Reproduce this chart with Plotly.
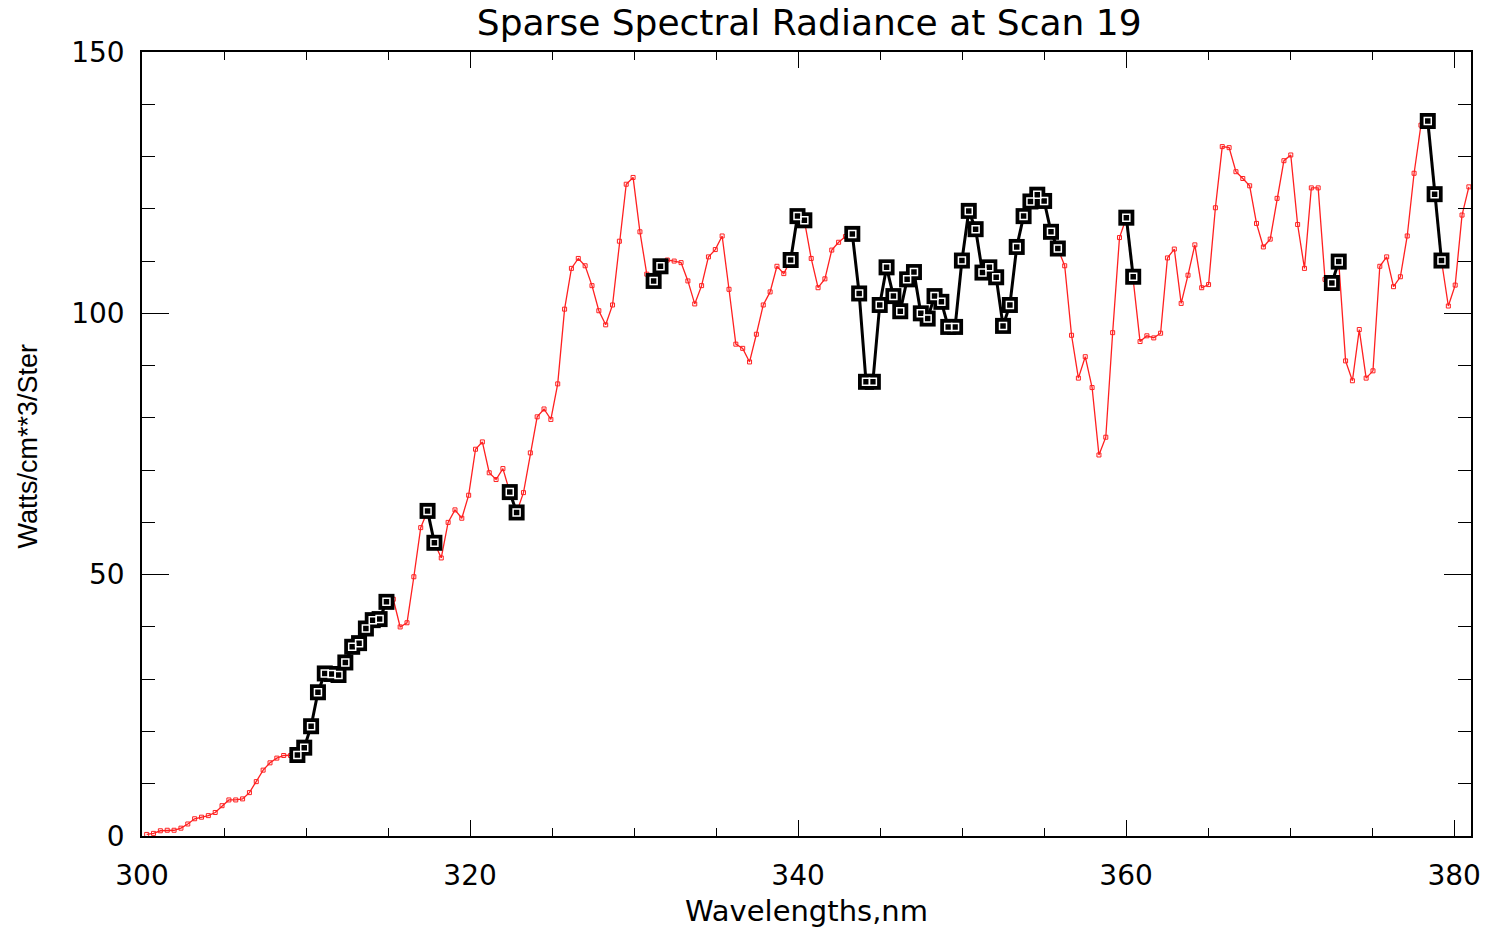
import numpy as np
import plotly.graph_objects as go

# ---- data ----
wl_start = 300.285      # nm, first sample
wl_step = 0.4177        # nm, sample spacing
radiance = [
    0.3, 0.5, 1.0, 1.1, 1.1, 1.5, 2.3, 3.3, 3.6, 3.9,
    4.5, 5.8, 6.9, 6.9, 7.1, 8.3, 10.4, 12.6, 14.0, 14.9,
    15.4, 15.4, 15.5, 16.9, 21.0, 27.5, 31.1, 31.0, 30.8, 33.2,
    36.2, 36.9, 39.7, 41.3, 41.5, 44.8, 45.3, 40.0, 40.8, 49.6,
    59.0, 62.2, 56.1, 53.2, 60.0, 62.4, 60.8, 65.2, 74.0, 75.4,
    69.5, 68.2, 70.3, 65.8, 61.9, 65.7, 73.3, 80.2, 81.7, 79.7,
    86.5, 100.8, 108.6, 110.5, 109.1, 105.3, 100.5, 97.8, 101.6, 113.8,
    124.7, 126.0, 115.6, 107.5, 106.2, 109.0, 110.2, 110.0, 109.7, 106.2,
    101.8, 105.3, 110.8, 112.2, 114.8, 104.6, 94.1, 93.3, 90.7, 96.0,
    101.6, 104.1, 109.0, 107.6, 110.2, 118.6, 117.8, 110.5, 104.9, 106.6,
    112.1, 113.6, 114.7, 115.2, 103.8, 86.9, 86.9, 101.6, 108.8, 103.3,
    100.4, 106.5, 107.9, 100.0, 99.0, 103.3, 102.2, 97.4, 97.4, 110.1,
    119.6, 116.1, 107.8, 108.8, 106.9, 97.6, 101.6, 112.7, 118.6, 121.4,
    122.7, 121.5, 115.6, 112.4, 109.1, 95.8, 87.6, 91.7, 85.8, 72.9,
    76.3, 96.3, 114.5, 118.3, 107.0, 94.6, 95.7, 95.3, 96.2, 110.6,
    112.3, 101.9, 107.3, 113.1, 104.9, 105.5, 120.2, 131.9, 131.7, 127.1,
    125.8, 124.4, 117.2, 112.7, 114.2, 122.0, 129.2, 130.3, 117.0, 108.6,
    124.0, 124.0, 106.5, 105.8, 109.9, 90.9, 87.1, 96.9, 87.6, 89.0,
    109.0, 110.8, 105.1, 107.0, 114.8, 126.8, 136.0, 136.8, 122.8, 110.1,
    101.4, 105.4, 118.8, 124.2,
]
# indices of the sparse (highlighted) samples
sparse_idx = (
    list(range(22, 36)) + [41, 42, 53, 54, 74, 75, 94, 95, 96]
    + list(range(103, 134)) + [143, 144, 173, 174, 187, 188, 189]
)
x_ticks = [300, 320, 340, 360, 380]
y_ticks = [0, 50, 100, 150]

wavelengths = [round(wl_start + wl_step * i, 3) for i in range(len(radiance))]
sparse_set = set(sparse_idx)
sparse_y = [v if i in sparse_set else None for i, v in enumerate(radiance)]

fig = go.Figure()
fig.add_trace(go.Scatter(
    x=wavelengths, y=radiance, mode="lines+markers",
    line=dict(color="#ff2020", width=1.3),
    marker=dict(symbol="square-open", size=4, color="#ff2020", line=dict(width=1, color="#ff2020")),
    showlegend=False, cliponaxis=True,
))
fig.add_trace(go.Scatter(
    x=wavelengths, y=sparse_y, mode="lines+markers", connectgaps=False,
    line=dict(color="black", width=3),
    marker=dict(symbol="square", size=16, color="black"),
    showlegend=False,
))
fig.add_trace(go.Scatter(
    x=wavelengths, y=sparse_y, mode="markers",
    marker=dict(symbol="square-open", size=7, color="white", line=dict(width=1.5, color="white")),
    showlegend=False,
))

axis_common = dict(
    showgrid=False, zeroline=False, showline=True, linecolor="black", linewidth=1.5,
    ticks="inside", tickcolor="black", mirror="ticks",
    tickfont=dict(family="DejaVu Sans", size=28, color="black"),
)
fig.update_xaxes(
    range=[300, 381.03], tickvals=x_ticks, ticklen=16, tickwidth=1.3,
    minor=dict(dtick=5, ticklen=8, tickcolor="black", ticks="inside", tickwidth=1.3),
    ticklabelstandoff=14, **axis_common,
)
fig.update_yaxes(
    range=[0, 150], tickvals=y_ticks, ticklen=27, tickwidth=1.3,
    minor=dict(dtick=10, ticklen=13, tickcolor="black", ticks="inside", tickwidth=1.3),
    ticklabelstandoff=10, **axis_common,
)

fig.update_layout(
    width=1493, height=930,
    margin=dict(l=142, r=17, t=52, b=94),
    paper_bgcolor="white", plot_bgcolor="white",
    title=dict(text="Sparse Spectral Radiance at Scan 19", x=0.542, xanchor="center",
               y=1 - 22 / 930, yanchor="middle",
               font=dict(family="DejaVu Sans", size=36, color="black")),
    annotations=[
        dict(text="Wavelengths,nm", xref="paper", yref="paper", x=0.5, y=-(911 - 836) / 784,
             xanchor="center", yanchor="middle", showarrow=False,
             font=dict(family="DejaVu Sans", size=29, color="black")),
        dict(text="Watts/cm**3/Ster", xref="paper", yref="paper", x=-(142 - 28) / 1334, y=0.5 - (446 - 444) / 784,
             xanchor="center", yanchor="middle", textangle=-90, showarrow=False,
             font=dict(family="Liberation Sans", size=27, color="black")),
    ],
)

fig.write_html("out.html")
